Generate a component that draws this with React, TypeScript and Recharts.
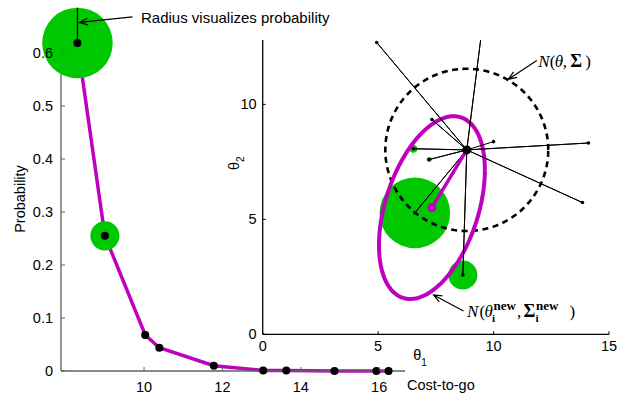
import React from 'react';
import { ComposedChart, ScatterChart, Line, Scatter, XAxis, YAxis } from 'recharts';

// ---------- data ----------
const costToGo = [8.3, 9.0, 10.03, 10.39, 11.78, 13.04, 13.63, 14.86, 15.93, 16.24];
const probability = [0.619, 0.255, 0.068, 0.044, 0.01, 0.001, 0.001, 0, 0, 0];

const theta1Samples = [6.59, 8.67, 6.53, 7.21, 4.94, 9.45, 14.11, 13.85, 7.33, 10.0];
const theta2Samples = [5.28, 2.58, 8.07, 7.6, 12.69, 12.89, 8.32, 5.73, 9.34, 8.38];

const priorMean = [8.84, 8.02];
const priorStd = [3.53, 3.53];
const newMean = [7.33, 5.51];
const newCov = [
  [5.26, 3.74],
  [3.74, 15.8],
];

const leftXTicks = [10, 12, 14, 16];
const leftYTicks = [0, 0.1, 0.2, 0.3, 0.4, 0.5, 0.6];
const rightXTicks = [0, 5, 10, 15];
const rightYTicks = [0, 5, 10];

// ---------- styles ----------
const MAGENTA = '#BF00BF';
const GREEN = '#00C800';
const SANS = '"Liberation Sans", Arial, sans-serif';
const SERIF = '"Liberation Serif", "DejaVu Serif", serif';
const FS = 14.5;
const RADIUS_PER_PROB = 57;

// ---------- derived tables ----------
const leftData = costToGo.map((c, i) => ({ cost: c, prob: probability[i] }));
const samples = theta1Samples.map((x, i) => ({ x, y: theta2Samples[i], p: probability[i] }));
const spokes: any[] = [];
samples.forEach((s) => {
  spokes.push({ x: priorMean[0], y: priorMean[1], end: false });
  spokes.push({ x: s.x, y: s.y, end: true });
});

function gaussContour(mean: number[], cov: number[][], n = 120) {
  const l11 = Math.sqrt(cov[0][0]);
  const l21 = cov[0][1] / l11;
  const l22 = Math.sqrt(cov[1][1] - l21 * l21);
  const pts: any[] = [];
  for (let k = 0; k <= n; k++) {
    const t = (2 * Math.PI * k) / n;
    pts.push({ x: mean[0] + l11 * Math.cos(t), y: mean[1] + l21 * Math.cos(t) + l22 * Math.sin(t) });
  }
  return pts;
}
const priorContour = gaussContour(priorMean, [
  [priorStd[0] * priorStd[0], 0],
  [0, priorStd[1] * priorStd[1]],
]);
const newContour = gaussContour(newMean, newCov);
const updateLine = [
  { x: priorMean[0], y: priorMean[1], end: false },
  { x: newMean[0], y: newMean[1], end: true },
];

function arrowPath(x1: number, y1: number, x2: number, y2: number, len = 9, ang = 0.38) {
  const a = Math.atan2(y2 - y1, x2 - x1);
  const hx1 = x2 - len * Math.cos(a - ang);
  const hy1 = y2 - len * Math.sin(a - ang);
  const hx2 = x2 - len * Math.cos(a + ang);
  const hy2 = y2 - len * Math.sin(a + ang);
  return `M${x1},${y1}L${x2},${y2}M${hx1},${hy1}L${x2},${y2}L${hx2},${hy2}`;
}

// ---------- ticks ----------
const LeftXTick = (p: any) => (
  <g>
    <line x1={p.x} y1={p.y} x2={p.x} y2={p.y - 4} stroke="#606060" strokeWidth={1} />
    <text x={p.x} y={p.y + 20.5} textAnchor="middle" fontFamily={SANS} fontSize={FS} fill="#000">
      {p.payload.value}
    </text>
  </g>
);
const LeftYTick = (p: any) => (
  <g>
    <line x1={p.x} y1={p.y} x2={p.x + 4} y2={p.y} stroke="#606060" strokeWidth={1} />
    <text x={p.x - 8} y={p.y + 5} textAnchor="end" fontFamily={SANS} fontSize={FS} fill="#000">
      {p.payload.value}
    </text>
  </g>
);
const RightXTick = (p: any) => (
  <g>
    <line x1={p.x} y1={p.y} x2={p.x} y2={p.y - 3} stroke="#000" strokeWidth={1} />
    <text x={p.x} y={p.y + 17} textAnchor="middle" fontFamily={SANS} fontSize={FS} fill="#000">
      {p.payload.value}
    </text>
  </g>
);
const RightYTick = (p: any) => (
  <g>
    <line x1={p.x} y1={p.y} x2={p.x + 3} y2={p.y} stroke="#000" strokeWidth={1} />
    <text x={p.x - 6} y={p.y + 5} textAnchor="end" fontFamily={SANS} fontSize={FS} fill="#000">
      {p.payload.value}
    </text>
  </g>
);

// ---------- shapes ----------
const GreenDisc = (p: any) => {
  const prob = p.payload.prob !== undefined ? p.payload.prob : p.payload.p;
  const r = prob * RADIUS_PER_PROB;
  return <circle cx={p.cx} cy={p.cy} r={Math.max(r, 0)} fill={GREEN} />;
};

const RadiusAnnotation = (p: any) => {
  const r = p.payload.prob * RADIUS_PER_PROB;
  const { cx, cy } = p;
  return (
    <g>
      <line x1={cx} y1={cy} x2={cx} y2={cy - r} stroke="#000" strokeWidth={1.3} />
      <path d={arrowPath(cx + 55, cy - 26, cx + 2, cy - 20.5)} stroke="#000" strokeWidth={1.2} fill="none" />
      <text x={cx + 63.5} y={cy - 19.5} fontFamily={SANS} fontSize={15} fill="#000">
        Radius visualizes probability
      </text>
    </g>
  );
};

const NoShape = () => <g />;

const SpokeEnd = (p: any) => (p.payload.end ? <circle cx={p.cx} cy={p.cy} r={1.8} fill="#000" /> : <g />);
const UpdateEnd = (p: any) => (p.payload.end ? <circle cx={p.cx} cy={p.cy} r={4.5} fill={MAGENTA} /> : <g />);

const PriorCenter = (p: any) => {
  const { cx, cy } = p;
  const by = cy - 83;
  return (
    <g fontFamily={SERIF} fontSize={17} fill="#000">
      <circle cx={cx} cy={cy} r={4.5} fill="#000" />
      <path d={arrowPath(cx + 70, cy - 89.3, cx + 41.6, cy - 70.7)} stroke="#000" strokeWidth={1.2} fill="none" />
      <text x={cx + 71.5} y={by} fontStyle="italic">N</text>
      <text x={cx + 83} y={by}>(</text>
      <text x={cx + 88} y={by} fontStyle="italic">θ</text>
      <text x={cx + 96} y={by}>,</text>
      <text x={cx + 103.5} y={by} fontWeight="bold" fontSize={18}>Σ</text>
      <text x={cx + 118.5} y={by}>)</text>
    </g>
  );
};

const NewMeanAnnotation = (p: any) => {
  const { cx, cy } = p;
  const by = cy + 109.5;
  const sup = cy + 102.5;
  const sub = cy + 114.5;
  return (
    <g fontFamily={SERIF} fill="#000">
      <path d={arrowPath(cx + 31.6, cy + 103.3, cx + 1.6, cy + 87.3)} stroke="#000" strokeWidth={1.2} fill="none" />
      <text x={cx + 35} y={by} fontSize={17} fontStyle="italic">N</text>
      <text x={cx + 47.5} y={by} fontSize={17}>(</text>
      <text x={cx + 52.5} y={by} fontSize={17} fontStyle="italic">θ</text>
      <text x={cx + 61.5} y={sup} fontSize={13} fontWeight="bold">new</text>
      <text x={cx + 60} y={sub} fontSize={11} fontWeight="bold">i</text>
      <text x={cx + 85} y={by} fontSize={17}>,</text>
      <text x={cx + 91.5} y={by} fontSize={18} fontWeight="bold">Σ</text>
      <text x={cx + 104} y={sup} fontSize={13} fontWeight="bold">new</text>
      <text x={cx + 103.5} y={sub} fontSize={11} fontWeight="bold">i</text>
      <text x={cx + 137.5} y={by} fontSize={17}>)</text>
    </g>
  );
};

// ---------- labels ----------
const ProbLabel = (p: any) => {
  const cx = 20;
  const cy = 199;
  return (
    <text x={cx} y={cy} transform={`rotate(-90, ${cx}, ${cy})`} textAnchor="middle" dominantBaseline="central" fontFamily={SANS} fontSize={FS} fill="#000">
      Probability
    </text>
  );
};
const CostLabel = (p: any) => {
  const vb = p.viewBox;
  return (
    <text x={vb.x + vb.width + 2} y={vb.y + 19} fontFamily={SANS} fontSize={FS} fill="#000">
      Cost-to-go
    </text>
  );
};
const Theta1Label = (p: any) => {
  const vb = p.viewBox;
  return (
    <text x={vb.x + 150.5} y={vb.y + 26} fontFamily={SANS} fontSize={FS} fill="#000">
      θ<tspan dy={6} fontSize={10}>1</tspan>
    </text>
  );
};
const Theta2Label = (p: any) => {
  const vb = p.viewBox;
  const x = vb.x + vb.width - 24;
  const y = 170;
  return (
    <text x={x} y={y} transform={`rotate(-90, ${x}, ${y})`} fontFamily={SANS} fontSize={FS} fill="#000">
      θ<tspan dy={5} fontSize={10}>2</tspan>
    </text>
  );
};

export default function App() {
  return (
    <div style={{ position: 'absolute', left: 0, top: 0, width: 638, height: 393, background: '#fff', overflow: 'hidden' }}>
      <div style={{ position: 'absolute', left: 0, top: 0 }}>
        <ComposedChart width={638} height={393} data={leftData} margin={{ top: 32.9, right: 233, bottom: 0, left: 0 }}>
          <XAxis
            type="number"
            dataKey="cost"
            domain={[7.88, 16.66]}
            ticks={leftXTicks}
            height={22}
            tickSize={0}
            tickMargin={0}
            tickLine={false}
            axisLine={{ stroke: '#606060', strokeWidth: 1.3 }}
            tick={(p: any) => <LeftXTick {...p} />}
            label={{ content: (p: any) => <CostLabel {...p} /> }}
          />
          <YAxis
            type="number"
            dataKey="prob"
            domain={[0, 0.638]}
            ticks={leftYTicks}
            width={61}
            tickSize={0}
            tickMargin={0}
            tickLine={false}
            axisLine={{ stroke: '#606060', strokeWidth: 1.3 }}
            tick={(p: any) => <LeftYTick {...p} />}
            label={{ content: (p: any) => <ProbLabel {...p} /> }}
          />
          <Scatter dataKey="prob" shape={GreenDisc} isAnimationActive={false} />
          <Line
            dataKey="prob"
            type="linear"
            stroke={MAGENTA}
            strokeWidth={3.5}
            dot={{ r: 4, fill: '#000', stroke: '#000', strokeWidth: 0 }}
            activeDot={false}
            isAnimationActive={false}
          />
          <Scatter data={[leftData[0]]} dataKey="prob" shape={RadiusAnnotation} isAnimationActive={false} />
        </ComposedChart>
      </div>
      <div style={{ position: 'absolute', left: 0, top: 0 }}>
        <ScatterChart width={638} height={393} margin={{ top: 40, right: 29, bottom: 0, left: 0 }}>
          <XAxis
            type="number"
            dataKey="x"
            domain={[0, 15]}
            ticks={rightXTicks}
            allowDataOverflow
            height={58.7}
            tickSize={0}
            tickMargin={0}
            tickLine={false}
            axisLine={{ stroke: '#000', strokeWidth: 1.3 }}
            tick={(p: any) => <RightXTick {...p} />}
            label={{ content: (p: any) => <Theta1Label {...p} /> }}
          />
          <YAxis
            type="number"
            dataKey="y"
            domain={[0, 12.8]}
            ticks={rightYTicks}
            allowDataOverflow
            width={262.7}
            tickSize={0}
            tickMargin={0}
            tickLine={false}
            axisLine={{ stroke: '#000', strokeWidth: 1.3 }}
            tick={(p: any) => <RightYTick {...p} />}
            label={{ content: (p: any) => <Theta2Label {...p} /> }}
          />
          <Scatter data={samples} fill={GREEN} shape={GreenDisc} isAnimationActive={false} />
          <Scatter
            data={priorContour}
            fill="#000"
            shape={NoShape}
            line={{ stroke: '#000', strokeWidth: 2.6, strokeDasharray: '6 4.5' }}
            lineType="joint"
            isAnimationActive={false}
          />
          <Scatter
            data={newContour}
            fill={MAGENTA}
            shape={NoShape}
            line={{ stroke: MAGENTA, strokeWidth: 4 }}
            lineType="joint"
            isAnimationActive={false}
          />
          <Scatter
            data={spokes}
            fill="#000"
            shape={SpokeEnd}
            line={{ stroke: '#000', strokeWidth: 1 }}
            lineType="joint"
            isAnimationActive={false}
          />
          <Scatter
            data={updateLine}
            fill={MAGENTA}
            shape={UpdateEnd}
            line={{ stroke: MAGENTA, strokeWidth: 3.5 }}
            lineType="joint"
            isAnimationActive={false}
          />
          <Scatter data={[{ x: newMean[0], y: newMean[1] }]} fill="#000" shape={NewMeanAnnotation} isAnimationActive={false} />
          <Scatter data={[{ x: priorMean[0], y: priorMean[1] }]} fill="#000" shape={PriorCenter} isAnimationActive={false} />
        </ScatterChart>
      </div>
    </div>
  );
}
